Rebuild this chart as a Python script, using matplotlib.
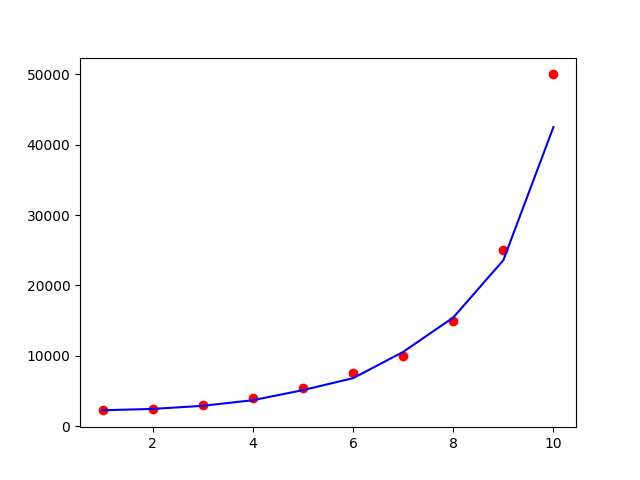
import matplotlib
matplotlib.use('Agg')
import matplotlib.pyplot as plt

# nivel e salario (pontos reais)
level = [1, 2, 3, 4, 5, 6, 7, 8, 9, 10]
salary = [2250, 2500, 3000, 4000, 5500, 7500, 10000, 15000, 25000, 50000]

# curva prevista pelo modelo
predicted = [2270, 2460, 2900, 3700, 5130, 6830, 10560, 15450, 23590, 42520]

fig = plt.figure(figsize=(6.4, 4.8), dpi=100)
plt.scatter(level, salary, color='red')
plt.plot(level, predicted, color='blue')
plt.savefig('out.png')
